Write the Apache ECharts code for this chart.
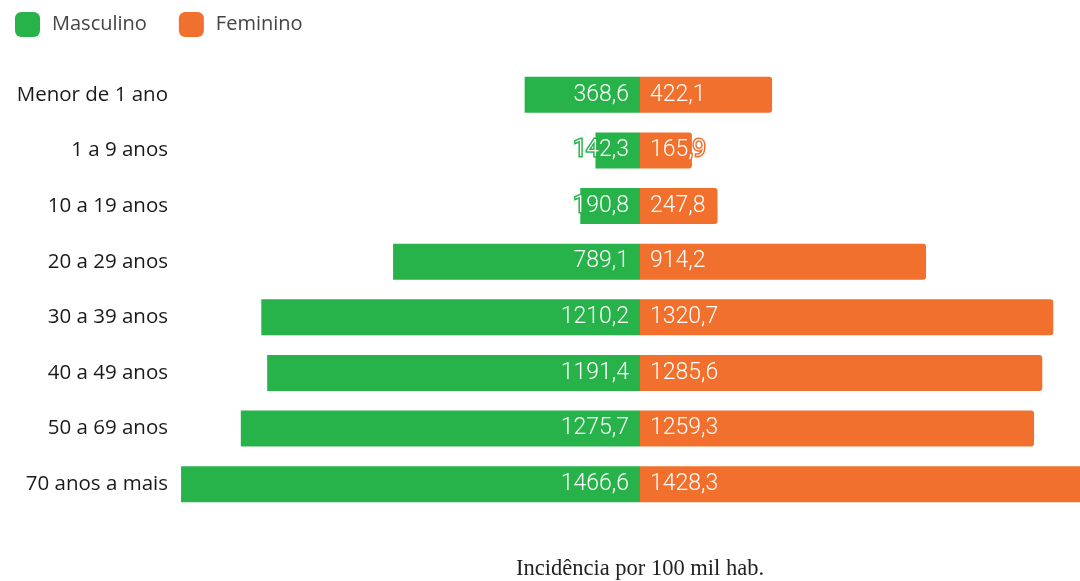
<!DOCTYPE html>
<html>
<head>
<meta charset="utf-8">
<script src="https://cdn.jsdelivr.net/npm/echarts@6/dist/echarts.min.js"></script>
<style>
  html, body { margin: 0; padding: 0; background: #fff; }
  #chart { width: 1080px; height: 581px; }
</style>
</head>
<body>
<div id="chart"></div>
<script>
var faixas = ['Menor de 1 ano', '1 a 9 anos', '10 a 19 anos', '20 a 29 anos',
              '30 a 39 anos', '40 a 49 anos', '50 a 69 anos', '70 anos a mais'];
var masculino = [368.6, 142.3, 190.8, 789.1, 1210.2, 1191.4, 1275.7, 1466.6];
var feminino = [422.1, 165.9, 247.8, 914.2, 1320.7, 1285.6, 1259.3, 1428.3];

var verde = '#27b34a';
var laranja = '#f2702d';

function fmt(p) {
    return Math.abs(p.value).toFixed(1).replace('.', ',');
}

var chart = echarts.init(document.getElementById('chart'));
var option = {
    animation: false,
    legend: {
        left: 10, top: 7,
        itemWidth: 25, itemHeight: 25, itemGap: 32,
        icon: 'roundRect',
        textStyle: { fontFamily: 'Open Sans', fontSize: 20, color: '#444', padding: [0, 0, 0, 7] },
        data: ['Masculino', 'Feminino']
    },
    grid: { left: 180, width: 920, top: 67, height: 445, containLabel: false, outerBoundsMode: 'none' },
    xAxis: {
        type: 'value',
        min: -1470, max: 1470,
        axisLine: { show: false },
        axisTick: { show: false },
        axisLabel: { show: false },
        splitLine: { show: false },
        name: 'Incidência por 100 mil hab.',
        nameLocation: 'middle',
        nameGap: 46,
        nameTextStyle: { fontFamily: 'Liberation Serif', fontSize: 22.5, color: '#222' }
    },
    yAxis: {
        type: 'category',
        inverse: true,
        data: faixas,
        axisLine: { show: false },
        axisTick: { show: false },
        axisLabel: { fontFamily: 'Open Sans', fontSize: 20.5, color: '#1a1a1a', margin: 12 }
    },
    series: [
        {
            name: 'Masculino', type: 'bar',
            data: masculino.map(function (v) { return -v; }),
            barWidth: 36, barGap: '-100%',
            itemStyle: { color: verde },
            label: {
                show: true, position: 'insideRight', distance: 11,
                formatter: fmt, color: '#fff',
                fontFamily: 'Roboto', fontSize: 23, fontWeight: 300,
                textBorderColor: verde, textBorderWidth: 3
            }
        },
        {
            name: 'Feminino', type: 'bar',
            data: feminino,
            barWidth: 36, barGap: '-100%',
            itemStyle: { color: laranja, borderRadius: [0, 3, 3, 0] },
            label: {
                show: true, position: 'insideLeft', distance: 10,
                formatter: fmt, color: '#fff',
                fontFamily: 'Roboto', fontSize: 23, fontWeight: 300,
                textBorderColor: laranja, textBorderWidth: 3
            }
        }
    ]
};
chart.setOption(option);
</script>
</body>
</html>
